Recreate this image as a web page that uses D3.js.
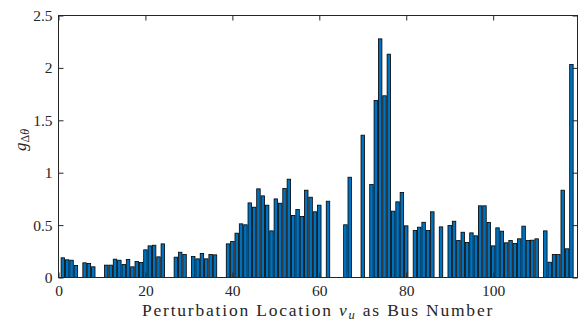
<!DOCTYPE html>
<html><head><meta charset="utf-8">
<script src="https://cdn.jsdelivr.net/npm/d3@7/dist/d3.min.js"></script>
<style>body{margin:0;background:#fff}svg{display:block}</style>
</head><body>
<svg id="c" width="582" height="324"></svg>
<script>
const buses = [1,2,3,4,6,7,8,11,12,13,14,15,16,17,18,19,20,21,22,23,24,27,28,29,31,32,33,34,35,36,
  39,40,41,42,43,44,45,46,47,48,49,50,51,52,53,54,55,56,57,58,59,60,62,66,67,70,72,73,74,75,76,77,78,79,80,
  82,83,84,85,86,88,90,91,92,93,94,95,96,97,98,99,100,101,102,103,104,105,106,107,108,109,110,112,113,114,115,116,117,118];
const values = [0.188,0.169,0.165,0.115,0.14,0.134,0.102,0.118,0.118,0.175,0.165,0.124,0.172,0.102,0.153,0.143,0.264,0.302,0.308,0.197,0.321,0.194,0.241,0.219,0.2,0.178,0.229,0.178,0.219,0.216,
  0.321,0.344,0.423,0.512,0.503,0.712,0.671,0.846,0.779,0.69,0.445,0.75,0.709,0.849,0.938,0.592,0.649,0.582,0.833,0.766,0.627,0.69,0.728,0.503,0.957,1.358,0.887,1.689,2.277,1.734,2.131,0.633,0.722,0.811,0.493,
  0.448,0.48,0.527,0.448,0.627,0.483,0.496,0.537,0.353,0.432,0.334,0.426,0.398,0.684,0.684,0.525,0.302,0.474,0.442,0.331,0.353,0.324,0.369,0.49,0.353,0.356,0.369,0.445,0.146,0.219,0.219,0.833,0.274,2.032];
const xTicks = [0,20,40,60,80,100];
const yTicks = [0,0.5,1,1.5,2,2.5];
const yTickLabels = ["0","0.5","1","1.5","2","2.5"];

const svg = d3.select("#c");
const L = 58.5, R = 577.5, T = 15.5, B = 277.5;
const x = d3.scaleLinear().domain([0,119.4]).range([L,R]);
const y = d3.scaleLinear().domain([0,2.5]).range([B,T]);
const font = "'Liberation Serif', 'DejaVu Serif', serif";
const axisColor = "#262626";
const bw = (x(0.8)-x(0));

svg.append("g").selectAll("rect").data(buses.map((b,i)=>({b,v:values[i]}))).join("rect")
  .attr("x", d=>x(d.b)-bw/2).attr("width", bw)
  .attr("y", d=>y(d.v)).attr("height", d=>y(0)-y(d.v))
  .attr("fill","#0072BD").attr("stroke","#000").attr("stroke-width",0.8);

const tl = 5;
const gx = svg.append("g").attr("transform",`translate(0,${B})`)
  .call(d3.axisBottom(x).tickValues(xTicks).tickSize(-tl).tickPadding(7).tickFormat(d3.format("d")));
const gxt = svg.append("g").attr("transform",`translate(0,${T})`)
  .call(d3.axisTop(x).tickValues(xTicks).tickSize(-tl).tickFormat(""));
const gy = svg.append("g").attr("transform",`translate(${L},0)`)
  .call(d3.axisLeft(y).tickValues(yTicks).tickSize(-tl).tickPadding(6).tickFormat((d,i)=>yTickLabels[i]));
const gyr = svg.append("g").attr("transform",`translate(${R},0)`)
  .call(d3.axisRight(y).tickValues(yTicks).tickSize(-tl).tickFormat(""));
[gx,gxt,gy,gyr].forEach(g=>{
  g.select(".domain").remove();
  g.selectAll("line").attr("stroke",axisColor);
  g.selectAll("text").attr("font-family",font).attr("font-size",15.5).attr("fill",axisColor);
});
svg.append("rect").attr("x",L).attr("y",T).attr("width",R-L).attr("height",B-T)
  .attr("fill","none").attr("stroke",axisColor).attr("stroke-width",1);

// x label
const xl = svg.append("text").attr("x",(L+R)/2).attr("y",316).attr("text-anchor","middle")
  .attr("font-family",font).attr("font-size",17.5).attr("fill",axisColor);
xl.append("tspan").text("Perturbation Location ");
xl.append("tspan").attr("font-style","italic").text("v");
xl.append("tspan").attr("font-style","italic").attr("font-size",12.5).attr("dy",3).text("u");
xl.append("tspan").attr("dy",-3).text(" as Bus Number");
const w0 = xl.node().getComputedTextLength();
const nChars = xl.text().length;
xl.attr("letter-spacing", ((352 - w0) / nChars).toFixed(2));

// y label
const yl = svg.append("text").attr("transform",`translate(26,140) rotate(-90)`)
  .attr("text-anchor","middle").attr("font-family",font).attr("font-size",17).attr("fill",axisColor);
yl.append("tspan").attr("font-style","italic").text("g");
yl.append("tspan").attr("font-size",12).attr("dy",3).text("Δ");
yl.append("tspan").attr("font-size",12).attr("font-style","italic").text("θ");
</script>
</body></html>
